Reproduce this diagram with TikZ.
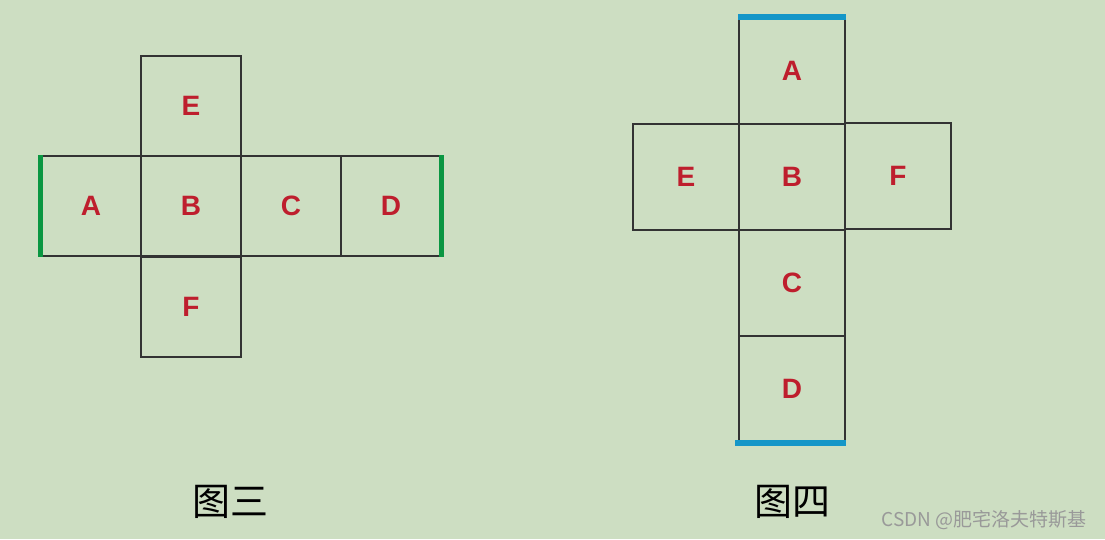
\documentclass[tikz,border=0pt]{standalone}
\usepackage{fontspec}
\setmainfont{Liberation Sans}
\newfontfamily\cjk{Noto Sans CJK SC}
\definecolor{bg}{RGB}{205,222,194}
\definecolor{lett}{RGB}{190,30,45}
\definecolor{gbar}{RGB}{10,150,65}
\definecolor{bbar}{RGB}{20,150,200}
\begin{document}
\begin{tikzpicture}[x=1pt,y=-1pt,
  cell/.style={draw=black!80,line width=1.8pt,minimum width=100pt,minimum height=100pt,inner sep=0pt,anchor=north west,
    font=\fontsize{28}{28}\selectfont\bfseries,text=lett},
  gline/.style={draw=gbar,line width=5pt},
  bline/.style={draw=bbar,line width=6pt},
  captext/.style={font=\cjk\fontsize{38}{38}\selectfont,text=black},
]
\fill[bg] (0,0) rectangle (1105,539);
\useasboundingbox (0,0) rectangle (1105,539);
% figure 3
\node[cell] (A3) at (40,155) {A};
\node[cell] (B3) at (140,155) {B};
\node[cell] (C3) at (240,155) {C};
\node[cell] (D3) at (340,155) {D};
\node[cell] (E3) at (140,55) {E};
\node[cell] (F3) at (140,256) {F};
\draw[gline] (A3.north west) -- (A3.south west);
\draw[gline] (D3.north east) -- (D3.south east);
% figure 4
\node[cell,minimum width=106pt,minimum height=106pt] (A4) at (738,17) {A};
\node[cell,minimum width=106pt,minimum height=106pt] (B4) at (738,123) {B};
\node[cell,minimum width=106pt,minimum height=106pt] (E4) at (632,123) {E};
\node[cell,minimum width=106pt,minimum height=106pt] (F4) at (844,122) {F};
\node[cell,minimum width=106pt,minimum height=106pt] (C4) at (738,229) {C};
\node[cell,minimum width=106pt,minimum height=106pt] (D4) at (738,335) {D};
\draw[bline] (A4.north west) -- (A4.north east);
\draw[bline] ([xshift=-3pt]D4.south west) -- (D4.south east);
% captions
\node[captext] (t3) at (230,502) {图三};
\node[captext] (t4) at (792,502) {图四};
\node[font=\cjk\fontsize{19}{19}\selectfont,text=black!40] (wm) at (984,520) {CSDN @肥宅洛夫特斯基};
\end{tikzpicture}
\end{document}
